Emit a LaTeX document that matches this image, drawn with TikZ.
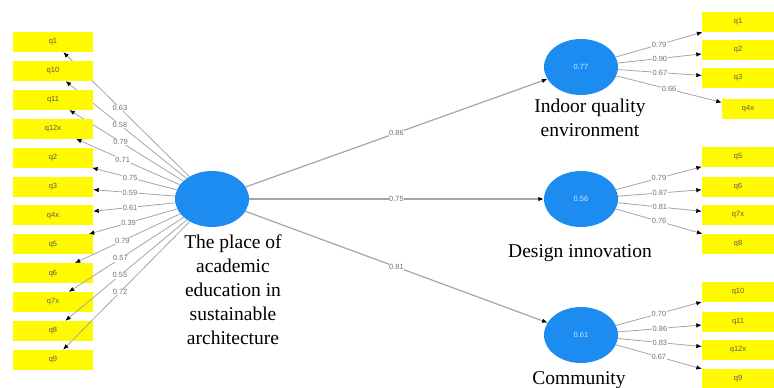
\documentclass[tikz,border=0pt]{standalone}
\usepackage{fontspec}
\setmainfont{Liberation Serif}
\newfontfamily\smallfont{Liberation Sans}
\usetikzlibrary{shapes}
\usetikzlibrary{arrows.meta}
\definecolor{lvblue}{RGB}{28,140,240}
\definecolor{itemyellow}{RGB}{255,250,0}
\definecolor{pathgray}{RGB}{165,165,165}
\tikzset{
  item/.style={fill=itemyellow,minimum width=80pt,minimum height=20pt,inner sep=0pt,
    font=\smallfont\fontsize{7.5}{8}\selectfont,text=black!65},
  ritem/.style={item,minimum width=72pt},
  lv/.style={ellipse,fill=lvblue,minimum width=74pt,minimum height=56pt,inner sep=0pt,
    font=\smallfont\fontsize{7.5}{8}\selectfont,text=white!80!lvblue},
  ld/.style={draw=pathgray,line width=0.8pt,-{Latex[color=black,length=5.5pt,width=4.5pt]}},
  pth/.style={draw=pathgray,line width=1.2pt,-{Latex[color=black,length=5.5pt,width=4.5pt]}},
  val/.style={fill=white,inner sep=0.6pt,font=\smallfont\fontsize{7.5}{8}\selectfont,text=black!55},
  lvname/.style={font=\fontsize{19.5}{24}\selectfont,align=center,inner sep=0pt}
}
\begin{document}
\begin{tikzpicture}[x=1pt,y=-1pt]
  \useasboundingbox (0,0) rectangle (774,388);
  % latent variables
  \node[lv] (C) at (212,199) {};
  \node[lv] (I) at (581,67) {0.77};
  \node[lv] (D) at (581,199) {0.56};
  \node[lv] (M) at (581,335) {0.61};
  \node[lvname,anchor=north] (Ct) at (233,235) {The place of\\academic\\education in\\sustainable\\architecture};
  \node[lvname] (It) at (590,118) {Indoor quality\\environment};
  \node[lvname] (Dt) at (580,253) {Design innovation};
  \node[lvname] (Mt) at (579,380) {Community};
  % structural paths
  \draw[pth] (C) -- node[val]{0.86} (I);
  \draw[pth] (C) -- node[val]{0.75} (D);
  \draw[pth] (C) -- node[val]{0.81} (M);
  % left indicators
  \foreach \q/\w [count=\i] in {q1/0.63,q10/0.58,q11/0.79,q12x/0.71,q2/0.75,q3/0.59,
      q4x/0.61,q5/0.39,q6/0.79,q7x/0.57,q8/0.55,q9/0.72}{
    \node[item] (L\i) at (53,{42+28.9*(\i-1)}) {\q};
    \draw[ld] (C) -- node[val,pos=.55]{\w} (L\i);
  }
  % indoor quality indicators
  \foreach \q/\y/\w [count=\i] in {q1/22/0.79,q2/50/0.90,q3/78/0.67}{
    \node[ritem] (A\i) at (738,\y) {\q};
    \draw[ld] (I) -- node[val]{\w} (A\i);
  }
  \node[ritem,minimum width=52pt] (A4) at (748,109) {q4x};
  \draw[ld] (I) -- node[val]{0.66} (A4);
  % design innovation indicators
  \foreach \q/\y/\w [count=\i] in {q5/157/0.79,q6/187/0.87,q7x/215/0.81,q8/244/0.76}{
    \node[ritem] (B\i) at (738,\y) {\q};
    \draw[ld] (D) -- node[val]{\w} (B\i);
  }
  % community indicators
  \foreach \q/\y/\w [count=\i] in {q10/292/0.70,q11/322/0.86,q12x/350/0.83,q9/379/0.67}{
    \node[ritem] (E\i) at (738,\y) {\q};
    \draw[ld] (M) -- node[val]{\w} (E\i);
  }
\end{tikzpicture}
\end{document}
